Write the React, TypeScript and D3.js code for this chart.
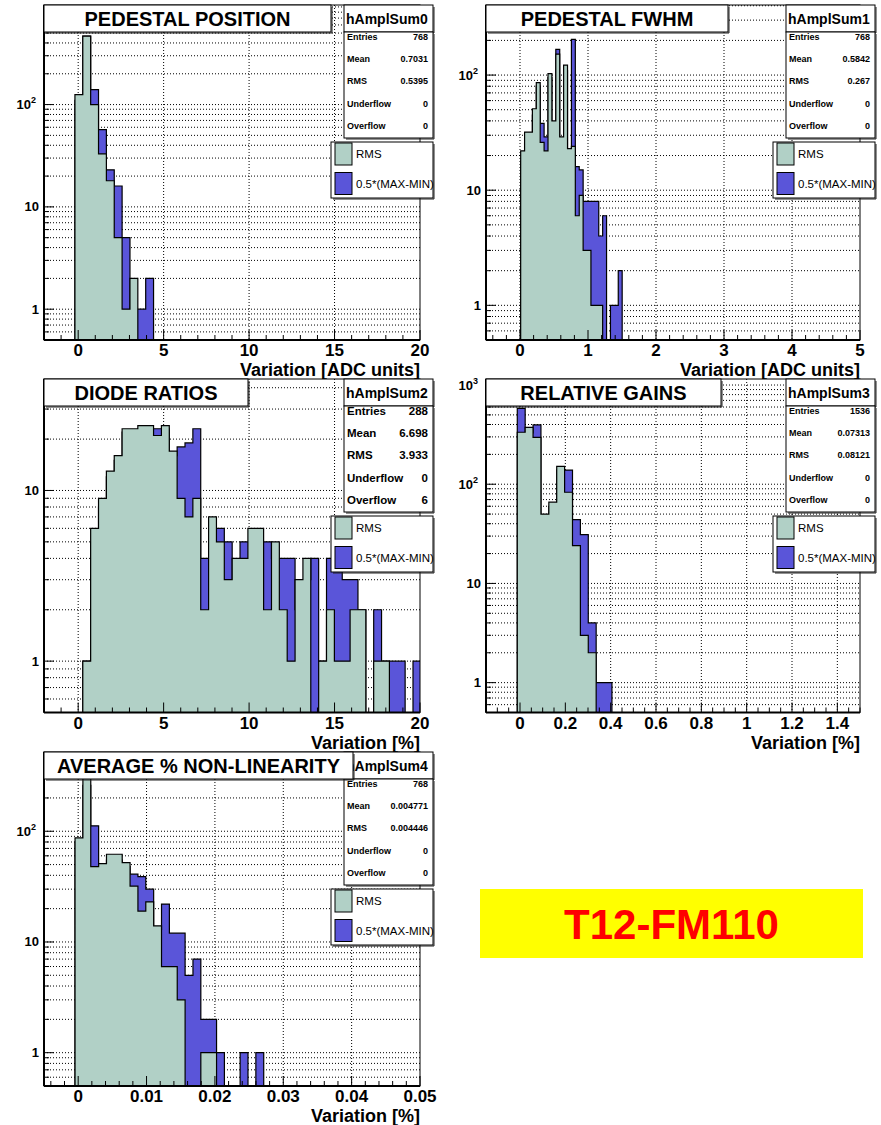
import * as d3 from "d3";

const FONT = "'Liberation Sans', Arial, Helvetica, sans-serif";
const TEAL = "#b1d0c6";
const BLUE = "#5a55d9";

// panel texts
const titles = ["PEDESTAL POSITION", "PEDESTAL FWHM", "DIODE RATIOS", "RELATIVE GAINS", "AVERAGE % NON-LINEARITY"];
const histNames = ["hAmplSum0", "hAmplSum1", "hAmplSum2", "hAmplSum3", "hAmplSum4"];
const xTitles = ["Variation [ADC units]", "Variation [ADC units]", "Variation [%]", "Variation [%]", "Variation [%]"];
const statLabels = ["Entries", "Mean", "RMS", "Underflow", "Overflow"];
const statValues = [
  ["768", "0.7031", "0.5395", "0", "0"],
  ["768", "0.5842", "0.267", "0", "0"],
  ["288", "6.698", "3.933", "0", "6"],
  ["1536", "0.07313", "0.08121", "0", "0"],
  ["768", "0.004771", "0.004446", "0", "0"],
];
const legendLabels = ["RMS", "0.5*(MAX-MIN)"];

// axes
const xDomains = [[-2, 20], [-0.5, 5], [-2, 20], [-0.15, 1.5], [-0.005, 0.05]];
const yMax = [940, 406, 45, 1150, 520];
const xMajor = [
  [0, 5, 10, 15, 20],
  [0, 1, 2, 3, 4, 5],
  [0, 5, 10, 15, 20],
  [0, 0.2, 0.4, 0.6, 0.8, 1, 1.2, 1.4],
  [0, 0.01, 0.02, 0.03, 0.04, 0.05],
];
const xTickLabels = [
  ["0", "5", "10", "15", "20"],
  ["0", "1", "2", "3", "4", "5"],
  ["0", "5", "10", "15", "20"],
  ["0", "0.2", "0.4", "0.6", "0.8", "1", "1.2", "1.4"],
  ["0", "0.01", "0.02", "0.03", "0.04", "0.05"],
];
const xMinorStep = [1, 0.2, 1, 0.05, 0.002];

// binning: first edge and width
const binStart = [-0.19, 0.01, -0.19, -0.012, -0.00046];
const binWidth = [0.46, 0.0574, 0.46, 0.0348, 0.00115];

// RMS histograms (teal)
const rmsCounts = [
  [125, 466, 100, 33, 18, 5, 1, 2, 0, 0],
  [22, 32, 32, 51, 86, 26, 22, 103, 40, 152, 29, 122, 23, 24, 6, 9, 3, 3, 1, 1, 1, 0, 0, 0, 0, 0],
  [0, 1, 6, 9, 13, 16, 23, 23, 24, 24, 21, 24, 17, 9, 7, 9, 2, 7, 5, 3, 4, 4, 6, 6, 2, 5, 2, 1, 3, 4, 0, 1, 2, 1, 1, 2, 2, 0, 1, 1, 0, 0, 0, 0],
  [334, 375, 297, 50, 66, 151, 83, 24, 3, 2, 0, 0],
  [87, 300, 48, 51, 62, 62, 52, 32, 19, 23, 14, 6, 6, 3, 0, 0, 1, 1, 0, 0, 0, 0, 0, 0],
];

// 0.5*(MAX-MIN) histograms (blue)
const maxMinCounts = [
  [110, 466, 140, 57, 23, 16, 5, 1, 1, 2],
  [18, 28, 30, 45, 80, 38, 29, 95, 36, 167, 27, 110, 20, 204, 16, 15, 8, 8, 8, 8, 4, 6, 0, 1, 1, 2],
  [0, 1, 5, 8, 12, 15, 22, 22, 23, 23, 23, 23, 16, 18, 19, 23, 4, 6, 6, 5, 3, 5, 5, 5, 5, 4, 4, 4, 2, 3, 4, 1, 4, 4, 3, 3, 2, 0, 2, 1, 1, 1, 0, 1],
  [582, 330, 396, 45, 60, 140, 139, 44, 31, 4, 1, 1],
  [80, 260, 112, 45, 55, 55, 48, 41, 39, 30, 13, 22, 12, 12, 5, 7, 2, 2, 1, 0, 0, 1, 0, 1],
];

const layout = [
  { x0: 44, x1: 420, y0: 5, y1: 340, titleW: 287, statFont: 9 },
  { x0: 486, x1: 860, y0: 5, y1: 340, titleW: 242, statFont: 9 },
  { x0: 44, x1: 420, y0: 379, y1: 712.5, titleW: 204, statFont: 11.5 },
  { x0: 486, x1: 860, y0: 379, y1: 712.5, titleW: 235, statFont: 9 },
  { x0: 44, x1: 420, y0: 752, y1: 1086, titleW: 309, statFont: 9 },
];

const Y_MIN = 0.5;

function Box({ x, y, w, h, fill = "white" }: any) {
  return (
    <g>
      <polyline
        points={`${x + 2},${y + h + 1} ${x + w + 1},${y + h + 1} ${x + w + 1},${y + 2}`}
        fill="none"
        stroke="#222"
        strokeWidth={1}
      />
      <rect x={x} y={y} width={w} height={h} fill={fill} stroke="#000" strokeWidth={1} />
    </g>
  );
}

function Panel({ i }: { i: number }) {
  const L = layout[i];
  const xs = d3.scaleLinear().domain(xDomains[i]).range([L.x0, L.x1]);
  const ys = d3.scaleLog().domain([Y_MIN, yMax[i]]).range([L.y1, L.y0]).clamp(true);
  const edge = (k: number) => binStart[i] + k * binWidth[i];

  const histPath = (counts: number[]) => {
    const pts: [number, number][] = [[edge(0), Y_MIN]];
    counts.forEach((c, k) => {
      const v = Math.max(c, Y_MIN);
      pts.push([edge(k), v]);
      pts.push([edge(k + 1), v]);
    });
    pts.push([edge(counts.length), Y_MIN]);
    return d3.line<[number, number]>().x((d) => xs(d[0])).y((d) => ys(d[1]))(pts) + "Z";
  };

  // y ticks: every k*10^n inside the range
  const yTicks: { v: number; major: boolean; n: number }[] = [];
  for (let n = -1; n <= 3; n++) {
    for (let k = 1; k <= 9; k++) {
      const v = k * Math.pow(10, n);
      if (v > Y_MIN * 1.001 && v < yMax[i]) yTicks.push({ v, major: k === 1, n });
    }
  }

  const [d0, d1] = xDomains[i];
  const step = xMinorStep[i];
  const minor = d3
    .range(Math.ceil(d0 / step - 1e-6), Math.floor(d1 / step + 1e-6) + 1)
    .map((k) => k * step)
    .filter((v) => !xMajor[i].some((m) => Math.abs(m - v) < step * 1e-3));

  const clipId = `clip${i}`;
  const sx0 = L.x0 + 300;
  const sx1 = L.x0 + 389;
  const lx0 = L.x0 + 287;
  const fs = L.statFont;

  return (
    <g>
      <defs>
        <clipPath id={clipId}>
          <rect x={L.x0} y={L.y0} width={L.x1 - L.x0} height={L.y1 - L.y0} />
        </clipPath>
      </defs>
      <rect x={L.x0} y={L.y0} width={L.x1 - L.x0} height={L.y1 - L.y0} fill="white" />
      {/* grid */}
      <g stroke="#000" strokeWidth={1} strokeDasharray="1 2">
        {xMajor[i]
          .filter((v) => xs(v) > L.x0 + 1 && xs(v) < L.x1 - 1)
          .map((v) => (
            <line key={"gx" + v} x1={xs(v)} x2={xs(v)} y1={L.y0} y2={L.y1} />
          ))}
        {yTicks.map((t) => (
          <line key={"gy" + t.v} x1={L.x0} x2={L.x1} y1={ys(t.v)} y2={ys(t.v)} />
        ))}
      </g>
      {/* histograms */}
      <g clipPath={`url(#${clipId})`} stroke="#000" strokeWidth={1.2} strokeLinejoin="miter">
        <path d={histPath(maxMinCounts[i])} fill={BLUE} />
        <path d={histPath(rmsCounts[i])} fill={TEAL} />
      </g>
      {/* frame and axes */}
      <rect x={L.x0} y={L.y0} width={L.x1 - L.x0} height={L.y1 - L.y0} fill="none" stroke="#000" strokeWidth={1} />
      <line x1={L.x0} x2={L.x1} y1={L.y1} y2={L.y1} stroke="#000" strokeWidth={2} />
      <line x1={L.x0} x2={L.x0} y1={L.y0} y2={L.y1} stroke="#000" strokeWidth={2} />
      <g stroke="#000" strokeWidth={1}>
        {xMajor[i].map((v) => (
          <line key={"xm" + v} x1={xs(v)} x2={xs(v)} y1={L.y1} y2={L.y1 - 10} />
        ))}
        {minor.map((v) => (
          <line key={"xn" + v} x1={xs(v)} x2={xs(v)} y1={L.y1} y2={L.y1 - 5} />
        ))}
        {yTicks.map((t) => (
          <line key={"yt" + t.v} x1={L.x0} x2={L.x0 + (t.major ? 10 : 5)} y1={ys(t.v)} y2={ys(t.v)} />
        ))}
      </g>
      <g fontFamily={FONT} fontWeight="bold" fill="#000">
        {xMajor[i].map((v, k) => (
          <text key={"xl" + v} x={xs(v)} y={L.y1 + 16} fontSize={17} textAnchor="middle">
            {xTickLabels[i][k]}
          </text>
        ))}
        {yTicks
          .filter((t) => t.major)
          .map((t) =>
            t.n < 2 ? (
              <text key={"yl" + t.v} x={L.x0 - 5} y={ys(t.v) + 4.5} fontSize={13} textAnchor="end">
                {t.n === 0 ? "1" : "10"}
              </text>
            ) : (
              <text key={"yl" + t.v} x={L.x0 - 8} y={ys(t.v) + 4.5} fontSize={13} textAnchor="end">
                10
                <tspan dy={-6} fontSize={9}>
                  {String(t.n)}
                </tspan>
              </text>
            )
          )}
        <text x={L.x1} y={L.y1 + 36} fontSize={18} textAnchor="end">
          {xTitles[i]}
        </text>
      </g>
      {/* stats box */}
      <Box x={sx0} y={L.y0} w={sx1 - sx0} h={27} />
      <Box x={sx0} y={L.y0 + 27} w={sx1 - sx0} h={106} />
      <g fontFamily={FONT} fontWeight="bold" fill="#000">
        <text x={sx0 + 2} y={L.y0 + 19} fontSize={14}>
          {histNames[i]}
        </text>
        {statLabels.map((s, k) => (
          <g key={s}>
            <text x={sx0 + 3} y={L.y0 + 31.5 + 22.3 * k + fs * 0.36} fontSize={fs}>
              {s}
            </text>
            <text x={sx1 - 5} y={L.y0 + 31.5 + 22.3 * k + fs * 0.36} fontSize={fs} textAnchor="end">
              {statValues[i][k]}
            </text>
          </g>
        ))}
      </g>
      {/* legend */}
      <Box x={lx0} y={L.y0 + 137} w={sx1 - lx0} h={56} />
      {[TEAL, BLUE].map((c, k) => (
        <g key={c}>
          <rect x={lx0 + 4} y={L.y0 + 138 + 29.5 * k} width={17} height={22} fill={c} stroke="#000" strokeWidth={1} />
          <text x={lx0 + 25} y={L.y0 + 153 + 29.5 * k} fontSize={11.5} fontFamily={FONT} fill="#000">
            {legendLabels[k]}
          </text>
        </g>
      ))}
      {/* title */}
      <Box x={L.x0} y={L.y0} w={L.titleW} h={27} />
      <text
        x={L.x0 + L.titleW / 2}
        y={L.y0 + 21}
        fontSize={20}
        fontWeight="bold"
        fontFamily={FONT}
        textAnchor="middle"
        fill="#000"
      >
        {titles[i]}
      </text>
    </g>
  );
}

export default function App() {
  return (
    <svg
      width={881}
      height={1125}
      viewBox="0 0 881 1125"
      style={{ position: "absolute", left: 0, top: 0, background: "white" }}
    >
      <rect width={881} height={1125} fill="white" />
      {titles.map((_, i) => (
        <Panel key={i} i={i} />
      ))}
      <rect x={480} y={889} width={383} height={69} fill="#ffff00" />
      <text x={671.5} y={939} fontSize={42} fontWeight="bold" fontFamily={FONT} textAnchor="middle" fill="#ff0000">
        T12-FM110
      </text>
    </svg>
  );
}
